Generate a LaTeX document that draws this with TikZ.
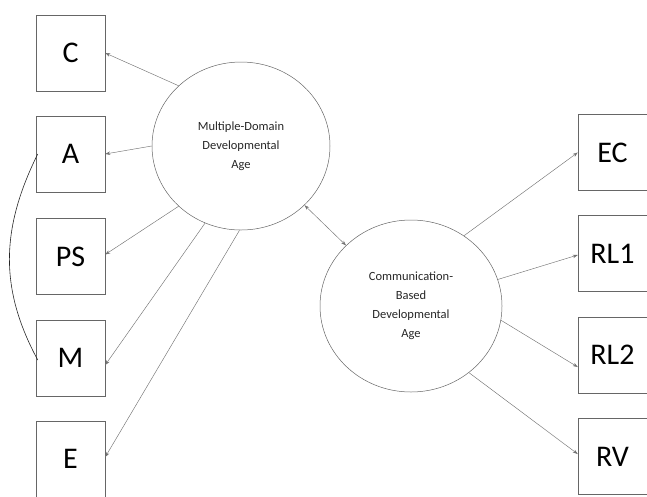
\documentclass[tikz,border=0pt]{standalone}
\usepackage{fontspec}
\setmainfont{Carlito}
\usetikzlibrary{arrows.meta,shapes.geometric}
\begin{document}
\begin{tikzpicture}[x=1pt,y=-1pt,
  obs/.style={draw=black!60,line width=0.5pt,minimum width=69pt,minimum height=76pt,inner sep=0pt,font=\fontsize{30}{36}\selectfont},
  lat/.style={draw=black!60,line width=0.5pt,ellipse,inner sep=0pt,align=center,font=\fontsize{12.5}{19}\selectfont,text=black!85},
  path1/.style={draw=black!55,line width=0.45pt,-{Stealth[length=5pt,width=3.5pt]}},
  path2/.style={draw=black!55,line width=0.45pt,{Stealth[length=5pt,width=3.5pt]}-{Stealth[length=5pt,width=3.5pt]}}]
\useasboundingbox (0,0) rectangle (647,496);
% left observed
\node[obs] (C) at (70.5,53) {C};
\node[obs] (A) at (70.5,154) {A};
\node[obs] (PS) at (70.5,256.5) {PS};
\node[obs] (M) at (70.5,358) {M};
\node[obs] (E) at (70.5,459) {E};
% right observed
\node[obs] (EC) at (612.5,152.5) {EC};
\node[obs] (RL1) at (612.5,253.5) {RL1};
\node[obs] (RL2) at (612.5,355) {RL2};
\node[obs] (RV) at (612.5,456.5) {RV};
% latents
\node[lat,minimum width=178pt,minimum height=168pt] (MD) at (241,146) {Multiple-Domain\\Developmental\\Age};
\node[lat,minimum width=182pt,minimum height=172pt] (CB) at (411,306) {Communication-\\Based\\Developmental\\Age};
% loadings
\draw[path1] (MD.136) -- (C.east);
\draw[path1] (MD.180) -- (A.east);
\draw[path1] (MD.224) -- ([yshift=2pt]PS.east);
\draw[path1] (MD.245) -- ([yshift=-7pt]M.east);
\draw[path1] (MD.269) -- ([yshift=2pt]E.east);
\draw[path2] (MD.317) -- (CB.137);
\draw[path1] (CB.53) -- (EC.west);
\draw[path1] (CB.17) -- ([yshift=-1.5pt]RL1.west);
\draw[path1] (CB.351) -- ([yshift=-12pt]RL2.west);
\draw[path1] (CB.311) -- ([yshift=2.5pt]RV.west);
% covariance curve
\draw[black!85,line width=0.6pt] ([xshift=2pt]A.west) .. controls (0,230) and (0,290) .. ([xshift=2pt,yshift=-2pt]M.west);
\end{tikzpicture}
\end{document}
